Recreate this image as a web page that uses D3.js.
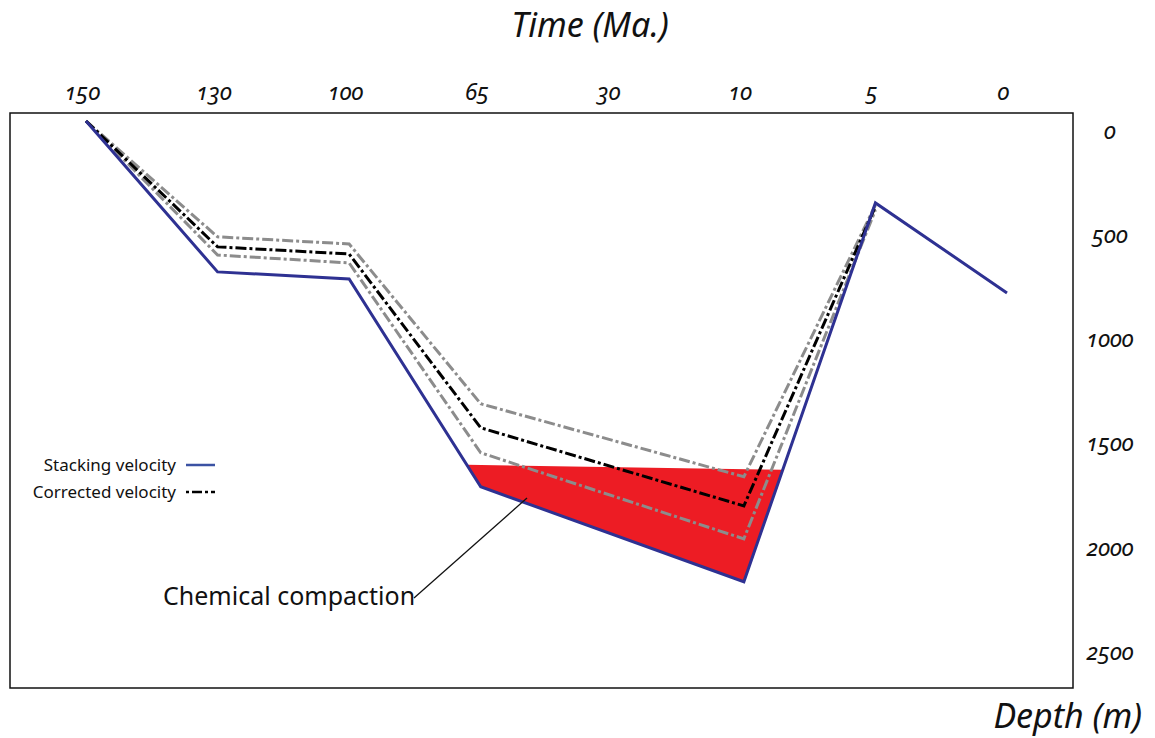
<!DOCTYPE html>
<html>
<head>
<meta charset="utf-8">
<script src="https://cdn.jsdelivr.net/npm/d3@7"></script>
<style>
  html, body { margin: 0; padding: 0; background: #fff; }
  svg { display: block; font-family: "Noto Sans", "Open Sans", sans-serif; }
  .num { font-style: italic; font-variant-numeric: oldstyle-nums; font-feature-settings: "onum" 1; }
</style>
</head>
<body>
<svg id="chart" width="1155" height="738"></svg>
<script>
// Burial history: time steps (Ma) and depth (m) at each step
const timeLabels = ["150", "130", "100", "65", "30", "10", "5", "0"];
const depthTicks = [0, 500, 1000, 1500, 2000, 2500];

// Depth from stacking velocities
const stackingTimes = ["150", "130", "100", "65", "10", "5", "0"];
const stackingDepth = [0, 724, 758, 1755, 2211, 393, 825];

// Depth from corrected velocities, with its upper and lower bounds
const correctedTimes = ["150", "130", "100", "65", "10", "5"];
const correctedDepth = [0, 604, 638, 1472, 1847, 410];
const correctedUpper = [0, 556, 590, 1357, 1707, 403];
const correctedLower = [0, 643, 681, 1592, 2005, 427];

// Top of the chemical compaction zone (left and right edge depth)
const compactionTop = [1650, 1674];

const svg = d3.select("#chart");

const frame = { left: 10, right: 1073, top: 113, bottom: 688 };

const x = d3.scalePoint().domain(timeLabels).range([86, 1007]);
const y = d3.scaleLinear().domain([0, 2500]).range([121, 642]);

// Frame
svg.append("rect")
  .attr("x", frame.left).attr("y", frame.top)
  .attr("width", frame.right - frame.left)
  .attr("height", frame.bottom - frame.top)
  .attr("fill", "none").attr("stroke", "#111").attr("stroke-width", 1.5);

// Chemical compaction zone: between compaction top and stacking-velocity curve
const pts = stackingTimes.map((t, i) => ({ x: x(t), d: stackingDepth[i] }));
function crossing(a, b, d) {
  const t = (d - a.d) / (b.d - a.d);
  return { x: a.x + t * (b.x - a.x), d: d };
}
const leftEdge = crossing(pts[2], pts[3], compactionTop[0]);
const rightEdge = crossing(pts[4], pts[5], compactionTop[1]);
const zone = [leftEdge, pts[3], pts[4], rightEdge];
svg.append("path")
  .attr("d", d3.line().x(p => p.x).y(p => y(p.d))(zone) + "Z")
  .attr("fill", "#ed1c24");

const line = d3.line().x(p => x(p.t)).y(p => y(p.d));
const series = (times, vals) => times.map((t, i) => ({ t: t, d: vals[i] }));

// Bounds of corrected velocity
[correctedUpper, correctedLower].forEach(vals => {
  svg.append("path")
    .attr("d", line(series(correctedTimes, vals)))
    .attr("fill", "none").attr("stroke", "#8c8c8c").attr("stroke-width", 3)
    .attr("stroke-dasharray", "11,3,3,3").attr("stroke-linejoin", "miter");
});

// Corrected velocity
svg.append("path")
  .attr("d", line(series(correctedTimes, correctedDepth)))
  .attr("fill", "none").attr("stroke", "#000").attr("stroke-width", 3)
  .attr("stroke-dasharray", "11,3,3,3");

// Stacking velocity
svg.append("path")
  .attr("d", line(series(stackingTimes, stackingDepth)))
  .attr("fill", "none").attr("stroke", "#2e3192").attr("stroke-width", 3);

// Top axis: time
const xAxis = d3.axisTop(x).tickSize(0).tickPadding(0);
const gx = svg.append("g").attr("transform", "translate(-4, 100)").call(xAxis);
gx.select(".domain").remove();
gx.selectAll("text").attr("class", "num").attr("font-size", 23).attr("fill", "#111")
  .attr("font-family", "Noto Sans, sans-serif");

// Right axis: depth
const yAxis = d3.axisRight(y).tickValues(depthTicks).tickFormat(d3.format("d"))
  .tickSize(0).tickPadding(0);
const gy = svg.append("g").attr("transform", "translate(1110, 10)").call(yAxis);
gy.select(".domain").remove();
gy.selectAll("text").attr("class", "num").attr("font-size", 23).attr("fill", "#111")
  .attr("text-anchor", "middle").attr("font-family", "Noto Sans, sans-serif");

// Axis titles
svg.append("text").attr("x", 590).attr("y", 37).attr("text-anchor", "middle")
  .attr("font-size", 34).attr("font-style", "italic").attr("fill", "#111")
  .text("Time (Ma.)");
svg.append("text").attr("x", 1142).attr("y", 728).attr("text-anchor", "end")
  .attr("font-size", 34).attr("font-style", "italic").attr("fill", "#111")
  .text("Depth (m)");

// Legend
const legend = [
  { label: "Stacking velocity", y: 465, stroke: "#3b52a3", dash: null },
  { label: "Corrected velocity", y: 492, stroke: "#000", dash: "3,3,10,3" }
];
legend.forEach(l => {
  svg.append("text").attr("x", 176).attr("y", l.y).attr("dy", "0.35em")
    .attr("text-anchor", "end").attr("font-size", 17).attr("fill", "#111").text(l.label);
  svg.append("line").attr("x1", 186).attr("x2", 215).attr("y1", l.y).attr("y2", l.y)
    .attr("stroke", l.stroke).attr("stroke-width", 2.5)
    .attr("stroke-dasharray", l.dash);
});

// Annotation
svg.append("text").attr("x", 163).attr("y", 605)
  .attr("font-size", 25).attr("fill", "#111").text("Chemical compaction");
svg.append("line").attr("x1", 414).attr("y1", 598).attr("x2", 527).attr("y2", 498)
  .attr("stroke", "#111").attr("stroke-width", 1.3);
</script>
</body>
</html>
